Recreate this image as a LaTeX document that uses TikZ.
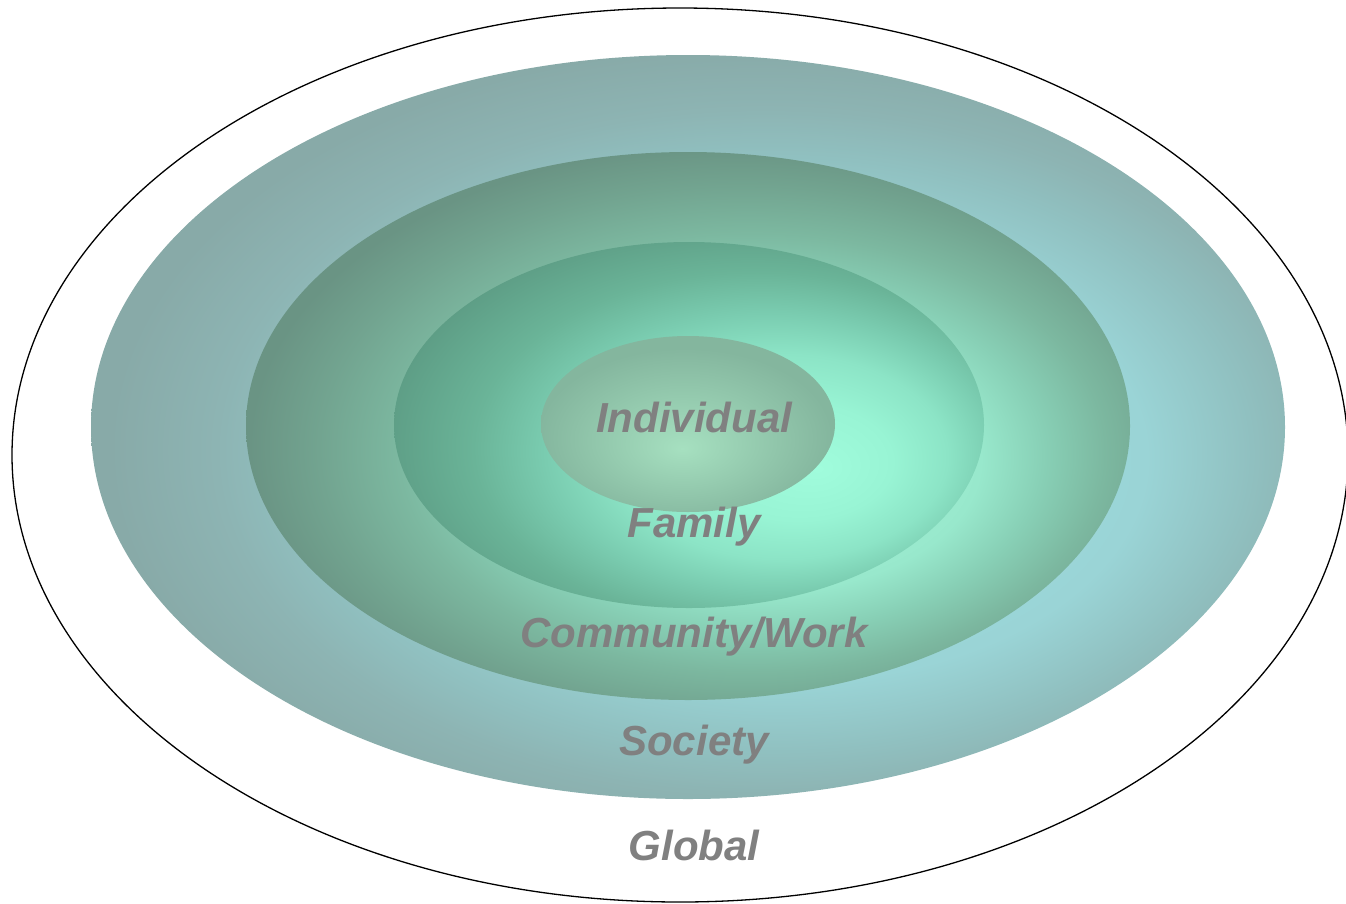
\documentclass[tikz,border=0pt]{standalone}
\usepackage{fontspec}
\setmainfont{Liberation Sans}
\usepackage{tikz}
\usetikzlibrary{calc}

\definecolor{ringText}{HTML}{808080}
% society ring
\definecolor{socA}{HTML}{A0DEE0}
\definecolor{socB}{HTML}{9AD4D6}
\definecolor{socC}{HTML}{90C0C0}
\definecolor{socD}{HTML}{8DB4B3}
\definecolor{socE}{HTML}{88AAA8}
% community ring
\definecolor{comA}{HTML}{A8F8DC}
\definecolor{comB}{HTML}{98E8CC}
\definecolor{comC}{HTML}{88D0B6}
\definecolor{comD}{HTML}{7CB8A0}
\definecolor{comE}{HTML}{72A490}
\definecolor{comF}{HTML}{6A9484}
% family ring
\definecolor{famA}{HTML}{A0FCDC}
\definecolor{famB}{HTML}{98F4D4}
\definecolor{famC}{HTML}{8CE4C6}
\definecolor{famD}{HTML}{7ACCB0}
\definecolor{famE}{HTML}{6AB498}
\definecolor{famF}{HTML}{5E9E86}
% individual
\definecolor{indA}{HTML}{A6E0C0}
\definecolor{indD}{HTML}{84B69E}

\pgfdeclareradialshading{shSociety}{\pgfpoint{6bp}{-3bp}}{%
  color(0bp)=(socA); color(15bp)=(socB); color(20bp)=(socC); color(23bp)=(socD);
  color(27bp)=(socE); color(50bp)=(socE)}
\pgfdeclareradialshading{shCommunity}{\pgfpoint{6bp}{-4bp}}{%
  color(0bp)=(comA); color(12bp)=(comB); color(16bp)=(comC); color(20bp)=(comD);
  color(24bp)=(comE); color(27.5bp)=(comF); color(50bp)=(comF)}
\pgfdeclareradialshading{shFamily}{\pgfpoint{11bp}{-6bp}}{%
  color(0bp)=(famA); color(8bp)=(famB); color(14bp)=(famC); color(19bp)=(famD);
  color(24bp)=(famE); color(30bp)=(famF); color(50bp)=(famF)}
\pgfdeclareradialshading{shIndividual}{\pgfpoint{-1bp}{-7bp}}{%
  color(0bp)=(indA); color(25bp)=(indD); color(50bp)=(indD)}

\begin{document}
\begin{tikzpicture}[x=1pt,y=-1pt,
  lbl/.style={text=ringText, font=\fontsize{42}{50}\selectfont\bfseries\itshape,
    anchor=base, inner sep=0pt}]
\def\cLine{black}
\def\tx{694}
\useasboundingbox (0,0) rectangle (1346,903);
\coordinate (O) at (680,455);
\coordinate (C) at (688,427);
% outer ring
\draw[\cLine, line width=1.3pt] (O) ellipse [x radius=668, y radius=447];
% shaded rings, outside in
\shade[shading=shSociety] (C) ellipse [x radius=597, y radius=372];
\shade[shading=shCommunity] ($(C)+(0,-1)$) ellipse [x radius=442, y radius=274];
\shade[shading=shFamily] ($(C)+(1,-2)$) ellipse [x radius=295, y radius=183];
\shade[shading=shIndividual] ($(C)+(0,-3)$) ellipse [x radius=147, y radius=88];
% labels
\node[lbl] (individual) at (\tx,432) {Individual};
\node[lbl] (family) at (\tx,537) {Family};
\node[lbl] (community) at (\tx,647) {Community/Work};
\node[lbl] (society) at (\tx,755) {Society};
\node[lbl] (global) at (\tx,860) {Global};
\end{tikzpicture}
\end{document}
